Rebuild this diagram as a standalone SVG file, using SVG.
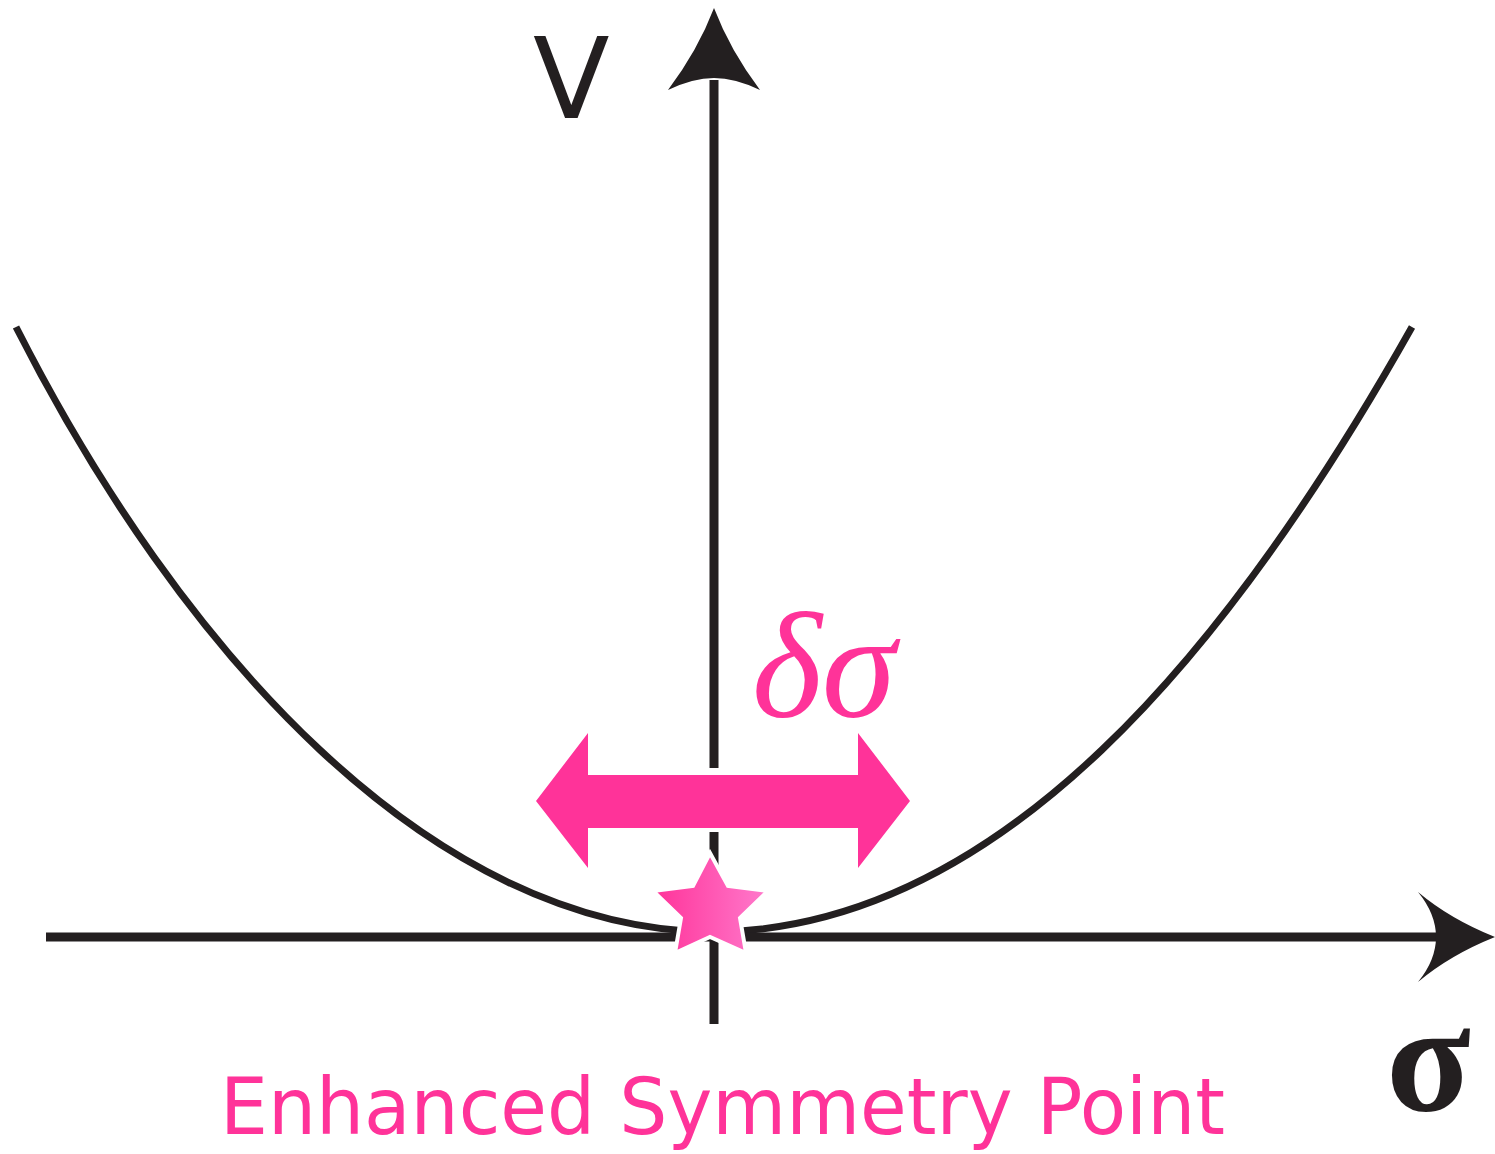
<svg xmlns="http://www.w3.org/2000/svg" width="1495" height="1154" viewBox="0 0 1495 1154">
<defs>
<style>
.ax{stroke:#231F20;stroke-width:9;fill:none}
.curve{stroke:#231F20;stroke-width:7;fill:none}
.pink{fill:#FF3399}
</style>
<linearGradient id="sg" x1="0" y1="0" x2="1" y2="0">
<stop offset="0" stop-color="#FF3399"/>
<stop offset="1" stop-color="#FF7ACC"/>
</linearGradient>
</defs>
<rect width="1495" height="1154" fill="#ffffff"/>
<g id="connectors">
<path id="parabola" class="curve" d="M16,327 C180,650 430,930 713,932 C1000,930 1230,650 1412,327"/>
<g id="v-axis">
<line class="ax" x1="714" y1="1024" x2="714" y2="832"/>
<line class="ax" x1="714" y1="768" x2="714" y2="80"/>
<path d="M714,8 Q730,50 760,90 Q735,78 714,78 Q693,78 668,90 Q698,50 714,8 Z" fill="#231F20"/>
</g>
<g id="h-axis">
<line class="ax" x1="46" y1="937" x2="1440" y2="937"/>
<path d="M1495,937 Q1450,955 1418,982 Q1436,960 1436,937 Q1436,914 1418,892 Q1450,919 1495,937 Z" fill="#231F20"/>
</g>
</g>
<g id="delta-arrow">
<path class="pink" stroke="#ffffff" stroke-width="6" paint-order="stroke" d="M536,801 L588,733 L588,775 L858,775 L858,733 L910,801 L858,868 L858,828 L588,828 L588,868 Z"/>
<text x="752" y="717" font-family="Liberation Serif, serif" font-style="italic" font-size="150" fill="#FF3399">δσ</text>
</g>
<g id="star">
<path d="M710,853 L728,886 L768,891 L740,918 L746,953 L710,937 L675,953 L681,918 L653,891 L693,886 Z" fill="url(#sg)" stroke="#ffffff" stroke-width="4" stroke-linejoin="miter"/>
</g>
<g id="labels">
<text x="533" y="118" font-family="DejaVu Sans, sans-serif" font-size="112" fill="#231F20">V</text>
<text x="1386" y="1110" font-family="Liberation Serif, serif" font-weight="bold" font-size="156" fill="#231F20">σ</text>
<text x="220" y="1134" font-family="DejaVu Sans, sans-serif" font-size="78" fill="#FF3399" textLength="1005" lengthAdjust="spacingAndGlyphs">Enhanced Symmetry Point</text>
</g>
</svg>
